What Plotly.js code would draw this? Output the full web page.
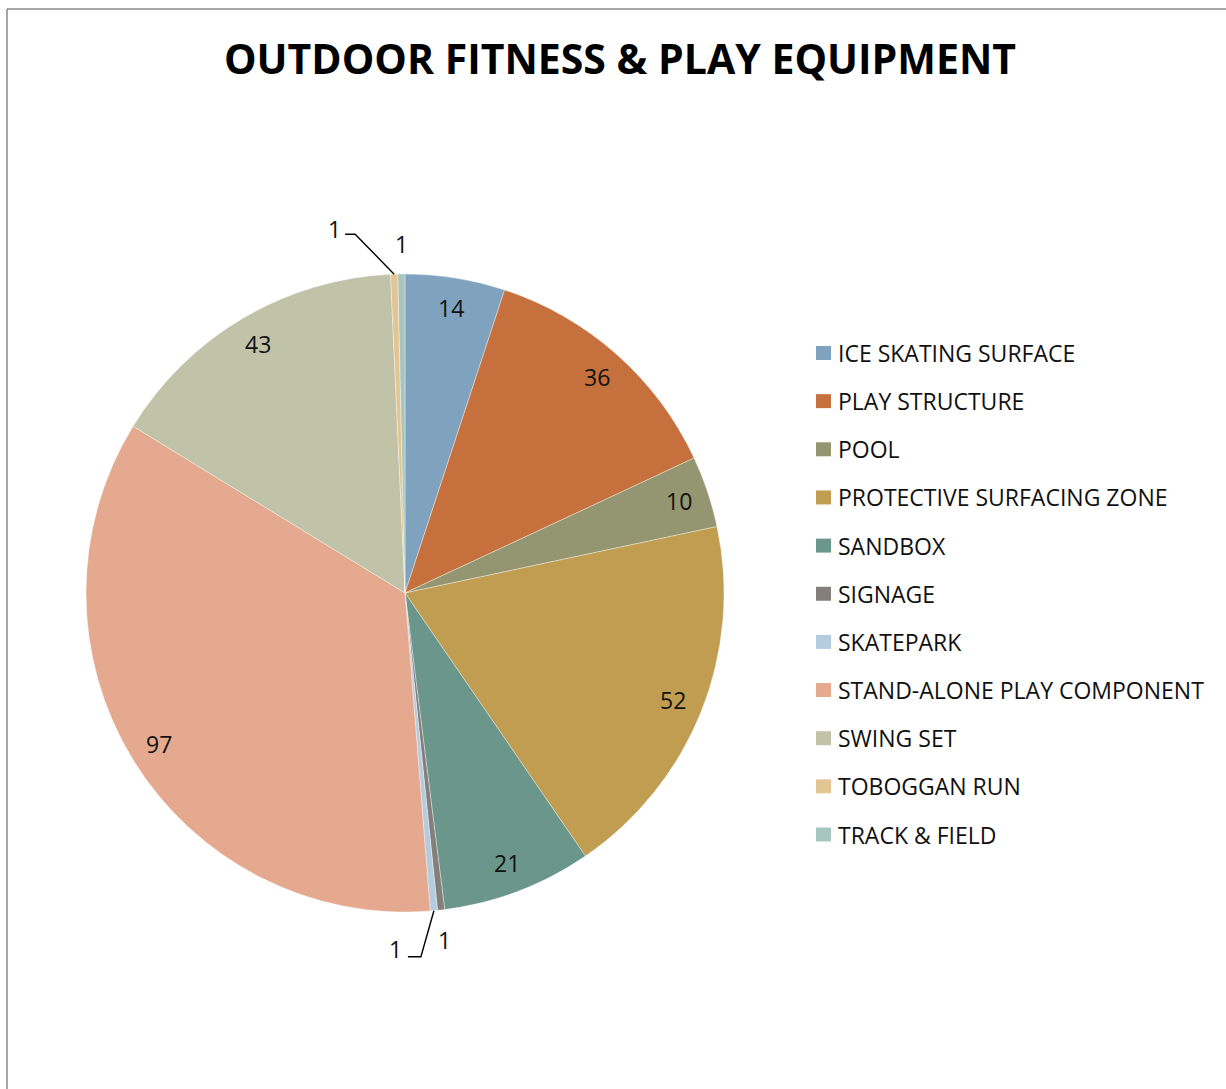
<!DOCTYPE html>
<html>
<head>
<meta charset="utf-8">
<script src="https://cdn.plot.ly/plotly-3.0.1.min.js"></script>
<style>html,body{margin:0;padding:0;background:#fff;}#chart{width:1226px;height:1089px;}</style>
</head>
<body>
<div id="chart"></div>
<script>
// ---- data ----
const categories = [
  "ICE SKATING SURFACE", "PLAY STRUCTURE", "POOL", "PROTECTIVE SURFACING ZONE",
  "SANDBOX", "SIGNAGE", "SKATEPARK", "STAND-ALONE PLAY COMPONENT",
  "SWING SET", "TOBOGGAN RUN", "TRACK & FIELD"
];
const counts = [14, 36, 10, 52, 21, 1, 1, 97, 43, 1, 1];
const sliceColors = [
  "#7FA3BF", "#C6713D", "#939670", "#C09D50",
  "#6B968B", "#857F7C", "#B4CCE0", "#E5A990",
  "#C0C3A8", "#E2C593", "#A7C6C0"
];
const chartTitle = "OUTDOOR FITNESS & PLAY EQUIPMENT";

// ---- layout constants (pixels) ----
const W = 1226, H = 1089;
const CX = 405, CY = 593, R = 319;
const FONT = "Open Sans, Noto Sans, sans-serif";
const px = x => x / W;
const py = y => 1 - y / H;

// leader lines for some small slices: offsets relative to slice edge point
const leaderStyle = {
  "TOBOGGAN RUN": {bend: [-39, -40], end: [-49, -40], text: [-60, -45]},
  "SKATEPARK":    {bend: [-13, 46], end: [-26, 46], text: [-38, 38]}
};

const total = counts.reduce((a, b) => a + b, 0);
const annotations = [];
const shapes = [];
const labelFont = {family: FONT, size: 23, color: "#111"};

function addLabel(xpx, ypx, txt) {
  annotations.push({
    x: px(xpx), y: py(ypx), xref: "paper", yref: "paper",
    xanchor: "center", yanchor: "middle",
    text: txt, showarrow: false, font: labelFont
  });
}

let cum = 0;
counts.forEach((v, i) => {
  const a = (cum + v / 2) / total * 2 * Math.PI;
  cum += v;
  const s = Math.sin(a), c = Math.cos(a);
  const name = categories[i];
  if (v / total > 0.02) {
    addLabel(CX + 0.905 * R * s, CY - 0.905 * R * c, String(v));
  } else if (leaderStyle[name]) {
    const st = leaderStyle[name];
    const ex = CX + R * s, ey = CY - R * c;
    shapes.push({
      type: "path", xref: "paper", yref: "paper",
      path: `M ${px(ex)} ${py(ey)} L ${px(ex + st.bend[0])} ${py(ey + st.bend[1])} L ${px(ex + st.end[0])} ${py(ey + st.end[1])}`,
      line: {color: "#000", width: 1.4}
    });
    addLabel(ex + st.text[0], ey + st.text[1], String(v));
  } else {
    addLabel(CX + 1.095 * R * s, CY - 1.095 * R * c, String(v));
  }
});

// manual legend
const LEG_X = 816, LEG_Y0 = 353, LEG_DY = 48.15, SW = 15;
categories.forEach((name, i) => {
  const yc = LEG_Y0 + i * LEG_DY;
  shapes.push({
    type: "rect", xref: "paper", yref: "paper",
    x0: px(LEG_X), x1: px(LEG_X + SW), y0: py(yc - 7), y1: py(yc + 7),
    fillcolor: sliceColors[i], line: {width: 0}
  });
  annotations.push({
    x: px(836), y: py(yc), xref: "paper", yref: "paper",
    xanchor: "left", yanchor: "middle", text: name, showarrow: false,
    font: {family: FONT, size: 23, color: "#111"}
  });
});

// frame lines
shapes.push({type: "line", xref: "paper", yref: "paper", x0: px(7), x1: px(W + 5), y0: py(9), y1: py(9), line: {color: "#888", width: 1.5}});
shapes.push({type: "line", xref: "paper", yref: "paper", x0: px(7), x1: px(7), y0: py(9), y1: py(H + 5), line: {color: "#888", width: 1.5}});

const trace = {
  type: "pie",
  labels: categories,
  values: counts,
  sort: false,
  direction: "clockwise",
  rotation: 0,
  textinfo: "none",
  hoverinfo: "skip",
  marker: {colors: sliceColors, line: {color: "rgba(255,255,255,0.6)", width: 0.6}},
  domain: {x: [px(CX - R), px(CX + R)], y: [py(CY + R), py(CY - R)]},
  showlegend: false
};

const layout = {
  width: W, height: H,
  margin: {l: 0, r: 0, t: 0, b: 0},
  paper_bgcolor: "#fff",
  title: {
    text: "<b>" + chartTitle.replace("&", "&amp;") + "</b>",
    x: px(620), xanchor: "center", y: py(60), yanchor: "middle",
    font: {family: FONT, size: 41, color: "#000"}
  },
  showlegend: false,
  annotations: annotations,
  shapes: shapes
};

Plotly.newPlot("chart", [trace], layout, {displayModeBar: false, staticPlot: true});
</script>
</body>
</html>
